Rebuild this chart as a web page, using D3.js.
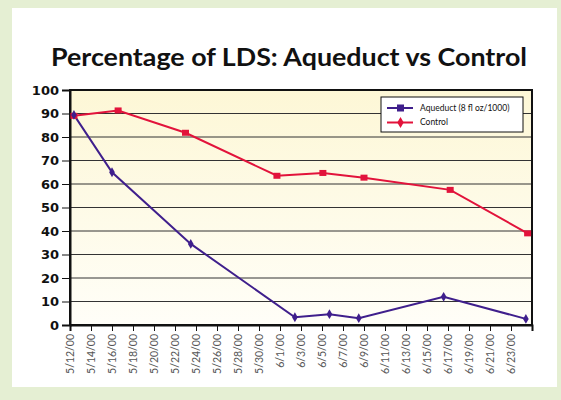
<!doctype html>
<html>
<head>
<style>
  body { margin: 0; background: #e5efd3; }
  svg { display: block; }
</style>
<script src="https://d3js.org/d3.v7.min.js"></script>
</head>
<body>
<svg width="561" height="400"></svg>
<script>
// tick labels on the date axis (every 2 days)
var tickLabels = ["5/12/00","5/14/00","5/16/00","5/18/00","5/20/00","5/22/00","5/24/00",
  "5/26/00","5/28/00","5/30/00","6/1/00","6/3/00","6/5/00","6/7/00","6/9/00","6/11/00",
  "6/13/00","6/15/00","6/17/00","6/19/00","6/21/00","6/23/00"];
var yTicks = [0,10,20,30,40,50,60,70,80,90,100];

// Aqueduct (8 fl oz/1000)
var aqueductDates = ["2000-05-12T09:00","2000-05-16T00:00","2000-05-23T12:00","2000-06-02T10:00",
  "2000-06-05T17:00","2000-06-08T12:00","2000-06-16T14:00","2000-06-24T10:00"];
var aqueductValues = [89.4, 65.0, 34.5, 3.3, 4.6, 2.9, 12.0, 2.6];

// Control
var controlDates = ["2000-05-12T09:00","2000-05-16T14:00","2000-05-23T00:00","2000-05-31T17:00",
  "2000-06-05T02:00","2000-06-09T00:00","2000-06-17T05:00","2000-06-24T14:00"];
var controlValues = [89.0, 91.3, 81.8, 63.5, 64.7, 62.7, 57.5, 39.0];

var purple = "#3f1f8c", red = "#e2133b";

var svg = d3.select("svg");
var parseTick = d3.timeParse("%m/%d/%y");
var parseIso = d3.isoParse;

var plotLeft = 70, plotRight = 532, plotTop = 90, plotBottom = 325;

var x = d3.scaleTime()
  .domain([parseTick("5/12/00"), parseTick("6/25/00")])
  .range([plotLeft, plotRight]);
var y = d3.scaleLinear().domain([0, 100]).range([plotBottom, plotTop]);

// white panel
svg.append("rect").attr("x", 12).attr("y", 8).attr("width", 545).attr("height", 379).attr("fill", "#fff");

// plot background gradient
var defs = svg.append("defs");
var grad = defs.append("linearGradient").attr("id", "bg").attr("x1", 0).attr("y1", 0).attr("x2", 0).attr("y2", 1);
grad.append("stop").attr("offset", "0%").attr("stop-color", "#fdf7d6");
grad.append("stop").attr("offset", "100%").attr("stop-color", "#fffef8");
svg.append("rect").attr("x", plotLeft).attr("y", plotTop)
  .attr("width", plotRight - plotLeft).attr("height", plotBottom - plotTop)
  .attr("fill", "url(#bg)");

svg.append("text")
  .attr("x", 289).attr("y", 66)
  .attr("text-anchor", "middle")
  .attr("textLength", 476).attr("lengthAdjust", "spacingAndGlyphs")
  .style("font-family", "Lato, 'DejaVu Sans', sans-serif")
  .style("font-weight", "bold")
  .style("font-size", "24px")
  .attr("fill", "#111")
  .text("Percentage of LDS: Aqueduct vs Control");

// gridlines
svg.append("g").selectAll("line")
  .data(yTicks.filter(function(d) { return d > 0 && d < 100; }))
  .enter().append("line")
  .attr("x1", plotLeft).attr("x2", plotRight)
  .attr("y1", function(d) { return y(d); }).attr("y2", function(d) { return y(d); })
  .attr("stroke", "#333").attr("stroke-width", 1);

// frame
svg.append("rect").attr("x", plotLeft).attr("y", plotTop)
  .attr("width", plotRight - plotLeft).attr("height", plotBottom - plotTop)
  .attr("fill", "none").attr("stroke", "#111").attr("stroke-width", 2);

// y axis
var yAxis = svg.append("g")
  .attr("transform", "translate(" + plotLeft + ",0)")
  .call(d3.axisLeft(y).tickValues(yTicks).tickSize(8).tickPadding(3));
yAxis.select(".domain").attr("stroke-width", 2).attr("stroke", "#111");
yAxis.selectAll("line").attr("stroke", "#111");
yAxis.selectAll("text")
  .style("font-family", "'DejaVu Sans', sans-serif")
  .style("font-weight", "bold")
  .style("font-size", "13px")
  .attr("fill", "#111");

// x axis
var xAxis = svg.append("g")
  .attr("transform", "translate(0," + plotBottom + ")")
  .call(d3.axisBottom(x)
    .tickValues(tickLabels.map(parseTick))
    .tickFormat(function(d, i) { return tickLabels[i]; })
    .tickSize(6));
xAxis.select(".domain").attr("stroke-width", 2).attr("stroke", "#111");
xAxis.selectAll("line").attr("stroke", "#111");
xAxis.selectAll("text")
  .attr("transform", "rotate(-90)")
  .attr("x", -9).attr("y", 0).attr("dy", "0.35em")
  .style("text-anchor", "end")
  .style("font-family", "Lato, 'DejaVu Sans', sans-serif")
  .style("font-size", "10.5px")
  .attr("fill", "#555");

var aqueduct = aqueductDates.map(function(d, i) { return {date: parseIso(d), value: aqueductValues[i]}; });
var control = controlDates.map(function(d, i) { return {date: parseIso(d), value: controlValues[i]}; });

var line = d3.line()
  .x(function(d) { return x(d.date); })
  .y(function(d) { return y(d.value); });

svg.append("path").datum(control).attr("d", line)
  .attr("fill", "none").attr("stroke", red).attr("stroke-width", 2);
svg.append("path").datum(aqueduct).attr("d", line)
  .attr("fill", "none").attr("stroke", purple).attr("stroke-width", 2);

svg.append("g").selectAll("rect")
  .data(control).enter().append("rect")
  .attr("x", function(d) { return x(d.date) - 3.5; })
  .attr("y", function(d) { return y(d.value) - 3; })
  .attr("width", 7).attr("height", 6)
  .attr("fill", red);

var diamond = d3.symbol().type(d3.symbolDiamond).size(28);
svg.append("g").selectAll("path")
  .data(aqueduct).enter().append("path")
  .attr("transform", function(d) { return "translate(" + x(d.date) + "," + y(d.value) + ")"; })
  .attr("d", diamond)
  .attr("fill", purple);

// legend
var lg = svg.append("g").attr("transform", "translate(381,97)");
lg.append("rect").attr("width", 142).attr("height", 35)
  .attr("fill", "#fff").attr("stroke", "#111").attr("stroke-width", 1);
var legendItems = [
  {label: "Aqueduct  (8 fl oz/1000)", color: purple, shape: "square"},
  {label: "Control", color: red, shape: "diamond"}
];
legendItems.forEach(function(item, i) {
  var yy = 11 + i * 14.5;
  lg.append("line").attr("x1", 6).attr("x2", 32).attr("y1", yy).attr("y2", yy)
    .attr("stroke", item.color).attr("stroke-width", 2);
  if (item.shape === "square") {
    lg.append("rect").attr("x", 16).attr("y", yy - 3.5).attr("width", 7).attr("height", 7).attr("fill", item.color);
  } else {
    lg.append("path").attr("transform", "translate(19.5," + yy + ")")
      .attr("d", d3.symbol().type(d3.symbolDiamond).size(36)).attr("fill", item.color);
  }
  lg.append("text").attr("x", 39).attr("y", yy).attr("dy", "0.35em")
    .style("font-family", "Lato, 'DejaVu Sans', sans-serif")
    .style("font-size", "8.5px")
    .attr("fill", "#111")
    .text(item.label);
});
</script>
</body>
</html>
